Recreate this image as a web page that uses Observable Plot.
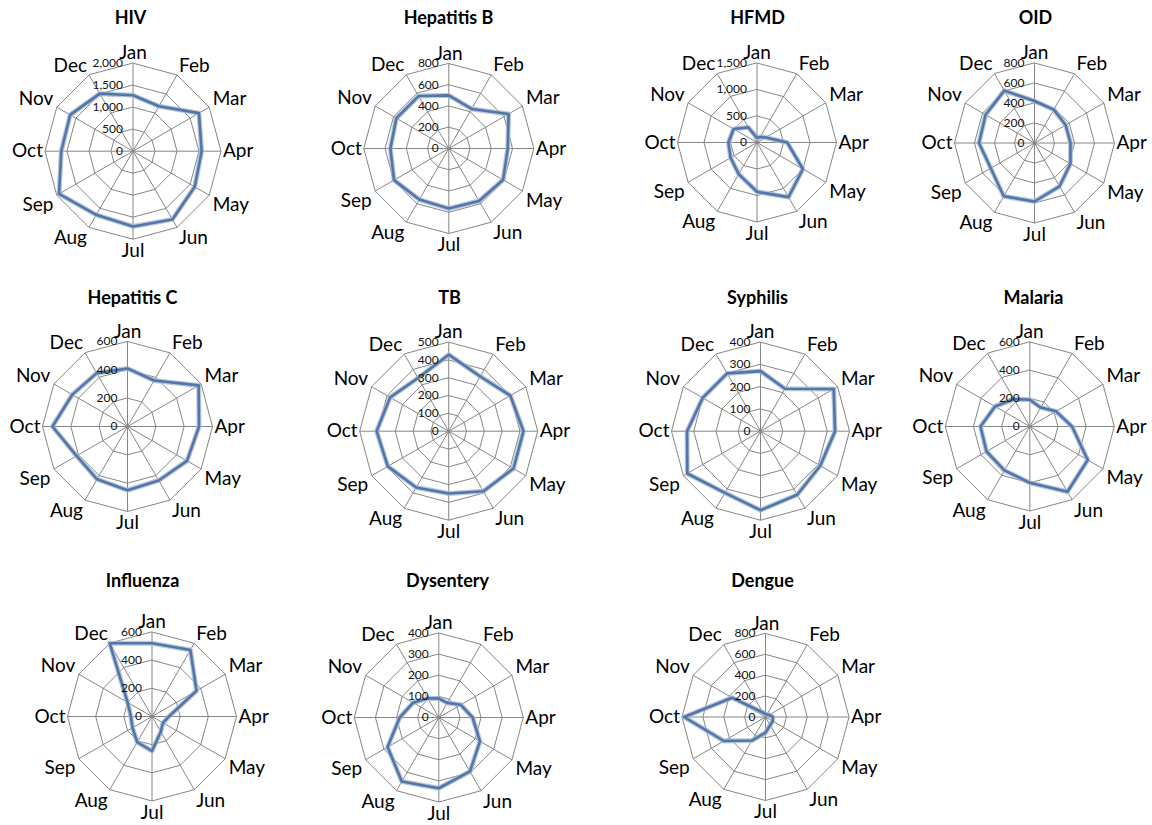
<!DOCTYPE html>
<html>
<head>
<meta charset="utf-8">
<script src="https://cdn.jsdelivr.net/npm/d3@7"></script>
<script src="https://cdn.jsdelivr.net/npm/@observablehq/plot@0.6"></script>
<style>
  body { margin: 0; background: #fff; }
  #chart svg { display: block; }
</style>
</head>
<body>
<div id="chart"></div>
<script>
// ---------- data ----------
const months = ["Jan", "Feb", "Mar", "Apr", "May", "Jun", "Jul", "Aug", "Sep", "Oct", "Nov", "Dec"];
const diseases = ["HIV", "Hepatitis B", "HFMD", "OID", "Hepatitis C", "TB", "Syphilis", "Malaria", "Influenza", "Dysentery", "Dengue"];

const hiv        = [1270, 1180, 1730, 1560, 1620, 1790, 1710, 1670, 1940, 1630, 1650, 1510];
const hepatitisB = [500, 430, 650, 555, 590, 570, 565, 555, 595, 550, 570, 570];
const hfmd       = [90, 120, 190, 570, 1000, 1190, 930, 690, 575, 540, 510, 330];
const oid        = [420, 385, 360, 360, 415, 500, 585, 615, 505, 555, 565, 605];
const hepatitisC = [410, 375, 580, 505, 485, 440, 450, 430, 415, 530, 450, 435];
const tb         = [430, 355, 400, 420, 420, 390, 350, 365, 395, 405, 380, 345];
const syphilis   = [270, 220, 380, 335, 310, 330, 355, 320, 380, 330, 300, 300];
const malaria    = [190, 155, 215, 300, 475, 535, 400, 360, 355, 350, 285, 225];
const influenza  = [520, 545, 365, 120, 90, 125, 245, 210, 160, 150, 200, 600];
const dysentery  = [90, 80, 120, 160, 225, 295, 335, 350, 280, 185, 140, 105];
const dengue     = [30, 25, 40, 70, 80, 90, 150, 260, 460, 780, 370, 50];

const series = [hiv, hepatitisB, hfmd, oid, hepatitisC, tb, syphilis, malaria, influenza, dysentery, dengue];

// radial axis: maximum and tick step of each panel
const axisMax  = [2000, 800, 1500, 800, 600, 500, 400, 600, 600, 400, 800];
const axisStep = [500, 200, 500, 200, 200, 100, 100, 200, 200, 100, 200];

// ---------- layout (pixels) ----------
const layout = [
  {cx: 132.5, cy: 150.7, r: 88, tx: 130, ty: 23},
  {cx: 448.3, cy: 148,   r: 85, tx: 448, ty: 23},
  {cx: 756.5, cy: 142,   r: 79.5, tx: 757, ty: 23},
  {cx: 1034,  cy: 142.5, r: 80, tx: 1035, ty: 23},
  {cx: 127,   cy: 426,   r: 85, tx: 132, ty: 303},
  {cx: 448.2, cy: 430.7, r: 89, tx: 449, ty: 303},
  {cx: 760,   cy: 430.7, r: 89, tx: 757, ty: 303},
  {cx: 1029.3,cy: 426,   r: 84.5, tx: 1033, ty: 303},
  {cx: 151.5, cy: 716,   r: 84.5, tx: 142, ty: 586},
  {cx: 438.3, cy: 717,   r: 84.5, tx: 447, ty: 586},
  {cx: 765,   cy: 716.5, r: 83.5, tx: 762, ty: 586}
];

const angle = j => (j * Math.PI) / 6;
const fmt = d3.format(",");

const gridRows = [], spokeRows = [], tickRows = [], monthRows = [], seriesRows = [], titleRows = [];

series.forEach((vals, i) => {
  const L = layout[i], max = axisMax[i], step = axisStep[i];
  const px = (v, j) => L.cx + (v / max) * L.r * Math.sin(angle(j));
  const py = (v, j) => L.cy - (v / max) * L.r * Math.cos(angle(j));
  for (let lv = step; lv <= max + 1e-9; lv += step) {
    months.forEach((m, j) => gridRows.push({key: i + "-" + lv, x: px(lv, j), y: py(lv, j)}));
  }
  for (let lv = 0; lv <= max + 1e-9; lv += step) {
    tickRows.push({x: L.cx, y: py(lv, 0), text: fmt(lv)});
  }
  months.forEach((m, j) => {
    spokeRows.push({x1: L.cx, y1: L.cy, x2: px(max, j), y2: py(max, j)});
    const s = Math.sin(angle(j)), c = Math.cos(angle(j));
    const gap = Math.abs(c) < 0.01 ? 2 : 4;
    const rr = L.r + gap;
    monthRows.push({
      x: L.cx + rr * s, y: L.cy - rr * c, text: m,
      ta: s > 0.01 ? "start" : s < -0.01 ? "end" : "middle",
      la: c > 0.01 ? "bottom" : c < -0.01 ? "top" : "middle"
    });
    seriesRows.push({panel: diseases[i], month: m, value: vals[j], x: px(vals[j], j), y: py(vals[j], j)});
  });
  titleRows.push({x: L.tx, y: L.ty, text: diseases[i]});
});

const monthMarks = [];
for (const ta of ["start", "middle", "end"]) {
  for (const la of ["top", "middle", "bottom"]) {
    const rows = monthRows.filter(d => d.ta === ta && d.la === la);
    if (rows.length) {
      monthMarks.push(Plot.text(rows, {x: "x", y: "y", text: "text", textAnchor: ta, lineAnchor: la, fontSize: 19, fill: "#000"}));
    }
  }
}

const chart = Plot.plot({
  width: 1152,
  height: 825,
  margin: 0,
  x: {domain: [0, 1152], range: [0, 1152], axis: null},
  y: {domain: [0, 825], range: [0, 825], axis: null},
  style: {fontFamily: "Lato, 'Open Sans', sans-serif", background: "#fff"},
  marks: [
    Plot.line(gridRows, {x: "x", y: "y", z: "key", curve: "linear-closed", stroke: "#868686", strokeWidth: 1}),
    Plot.link(spokeRows, {x1: "x1", y1: "y1", x2: "x2", y2: "y2", stroke: "#868686", strokeWidth: 1}),
    Plot.line(seriesRows, {x: "x", y: "y", z: "panel", curve: "linear-closed", stroke: "#a7bad5", strokeWidth: 5, strokeOpacity: 0.8}),
    Plot.line(seriesRows, {x: "x", y: "y", z: "panel", curve: "linear-closed", stroke: "#5276a7", strokeWidth: 2.6}),
    Plot.text(tickRows, {x: "x", y: "y", text: "text", textAnchor: "end", dx: -10, fontSize: 12, fill: "#111"}),
    ...monthMarks,
    Plot.text(titleRows, {x: "x", y: "y", text: "text", lineAnchor: "bottom", fontSize: 18, fontWeight: "bold", fill: "#000"})
  ]
});

document.getElementById("chart").append(chart);
</script>
</body>
</html>
